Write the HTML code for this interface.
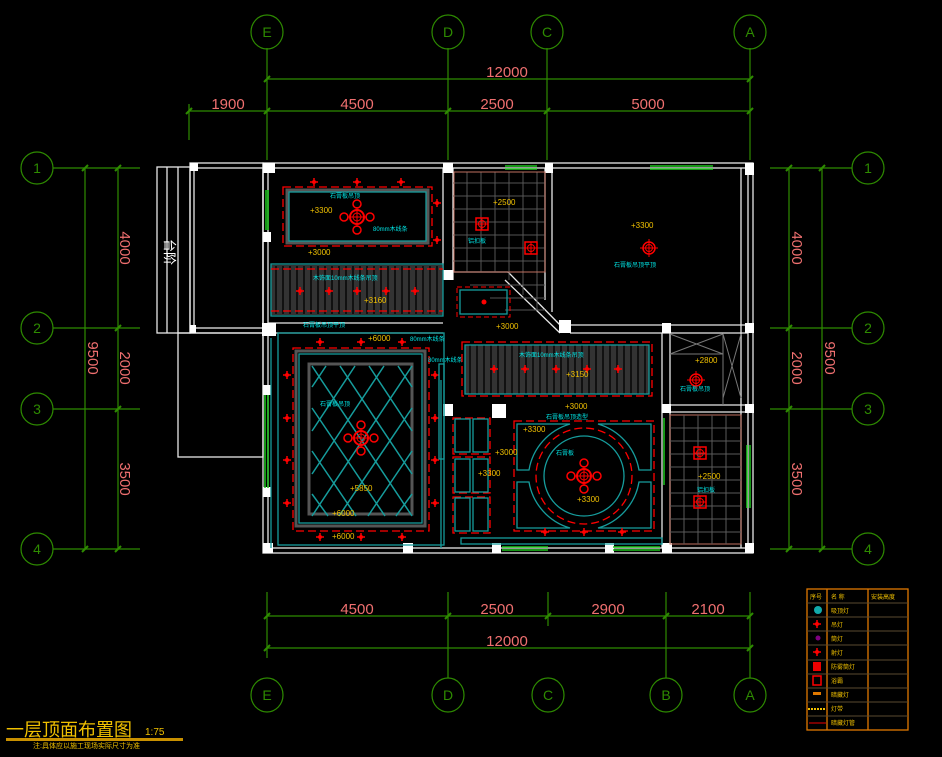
<!DOCTYPE html>
<html><head><meta charset="utf-8"><style>
html,body{margin:0;padding:0;background:#000;}
svg{display:block;font-family:"Liberation Sans","Noto Sans CJK SC",sans-serif;}
.g{stroke:#2e8b00;fill:none;stroke-width:1.2}
.w{stroke:#e8e8e8;fill:none;stroke-width:1.3}
.c{stroke:#169c9c;fill:none;stroke-width:1.3}
.rd{stroke:#f00;fill:none;stroke-width:1.3;stroke-dasharray:8 4}
.gr{stroke:#555;fill:none;stroke-width:1}
.dt{fill:#f07070;font-size:15px;text-anchor:middle}
.yl{fill:#f0c000;font-size:8px}
.cy{fill:#00e8e8;font-size:6px}
.bt{fill:#2e8b00;font-size:14px;text-anchor:middle;dominant-baseline:central}
.tk{stroke:#2e8b00;stroke-width:2}
</style></head><body>
<svg width="942" height="757" viewBox="0 0 942 757" xmlns="http://www.w3.org/2000/svg">
<defs>
<g id="lamp"><circle r="6" fill="none" stroke="#f00" stroke-width="1.5"/><circle r="3.5" fill="none" stroke="#f00"/><path d="M-9 0H9M0 -9V9" stroke="#f00"/></g>
<g id="big"><circle r="7" fill="none" stroke="#f00" stroke-width="2"/><circle r="4" fill="none" stroke="#f00"/><path d="M-10 0H10M0-10V10" stroke="#f00"/>
<circle cx="-13" r="4" fill="none" stroke="#f00" stroke-width="1.5"/><circle cx="13" r="4" fill="none" stroke="#f00" stroke-width="1.5"/><circle cy="-13" r="4" fill="none" stroke="#f00" stroke-width="1.5"/><circle cy="13" r="4" fill="none" stroke="#f00" stroke-width="1.5"/></g>
<g id="sp"><path d="M-4 0H4M0-4V4" stroke="#f00" stroke-width="1.5"/><circle r="2" fill="#f00"/></g>
<g id="sq"><rect x="-6" y="-6" width="12" height="12" fill="none" stroke="#f00" stroke-width="1.5"/><circle r="3.5" fill="none" stroke="#f00"/><path d="M-6 0H6M0-6V6" stroke="#f00"/></g>
<path id="th" d="M-3 3L3 -3" class="tk"/>
<path id="tv" d="M-3 3L3 -3" class="tk"/>
</defs>

<!-- top grid -->
<g class="g">
<line x1="267" y1="79" x2="750" y2="79"/>
<line x1="189" y1="111" x2="750" y2="111"/>
<line x1="267" y1="48" x2="267" y2="160"/><line x1="448" y1="48" x2="448" y2="160"/><line x1="547" y1="48" x2="547" y2="160"/><line x1="750" y1="48" x2="750" y2="160"/>
<line x1="189" y1="104" x2="189" y2="140"/>
<ellipse cx="267" cy="32" rx="16" ry="17"/><ellipse cx="448" cy="32" rx="16" ry="17"/><ellipse cx="547" cy="32" rx="16" ry="17"/><ellipse cx="750" cy="32" rx="16" ry="17"/>
<line x1="53" y1="168" x2="140" y2="168"/><line x1="53" y1="328" x2="140" y2="328"/><line x1="53" y1="409" x2="140" y2="409"/><line x1="53" y1="549" x2="140" y2="549"/>
<line x1="85" y1="168" x2="85" y2="549"/><line x1="118" y1="168" x2="118" y2="549"/>
<ellipse cx="37" cy="168" rx="16" ry="16"/><ellipse cx="37" cy="328" rx="16" ry="16"/><ellipse cx="37" cy="409" rx="16" ry="16"/><ellipse cx="37" cy="549" rx="16" ry="16"/>
<line x1="770" y1="168" x2="852" y2="168"/><line x1="770" y1="328" x2="852" y2="328"/><line x1="770" y1="409" x2="852" y2="409"/><line x1="770" y1="549" x2="852" y2="549"/>
<line x1="789" y1="168" x2="789" y2="549"/><line x1="822" y1="168" x2="822" y2="549"/>
<ellipse cx="868" cy="168" rx="16" ry="16"/><ellipse cx="868" cy="328" rx="16" ry="16"/><ellipse cx="868" cy="409" rx="16" ry="16"/><ellipse cx="868" cy="549" rx="16" ry="16"/>
<line x1="267" y1="616" x2="750" y2="616"/><line x1="267" y1="648" x2="750" y2="648"/>
<line x1="267" y1="592" x2="267" y2="658"/><line x1="448" y1="592" x2="448" y2="678"/><line x1="548" y1="592" x2="548" y2="626"/><line x1="666" y1="592" x2="666" y2="678"/><line x1="750" y1="592" x2="750" y2="678"/>
<ellipse cx="267" cy="695" rx="16" ry="17"/><ellipse cx="448" cy="695" rx="16" ry="17"/><ellipse cx="548" cy="695" rx="16" ry="17"/><ellipse cx="666" cy="695" rx="16" ry="17"/><ellipse cx="750" cy="695" rx="16" ry="17"/>
</g>
<!-- ticks -->
<g>
<use href="#th" x="267" y="79"/><use href="#th" x="750" y="79"/>
<use href="#th" x="189" y="111"/><use href="#th" x="267" y="111"/><use href="#th" x="448" y="111"/><use href="#th" x="547" y="111"/><use href="#th" x="750" y="111"/>
<use href="#th" x="267" y="616"/><use href="#th" x="448" y="616"/><use href="#th" x="548" y="616"/><use href="#th" x="666" y="616"/><use href="#th" x="750" y="616"/>
<use href="#th" x="267" y="648"/><use href="#th" x="750" y="648"/>
<use href="#tv" x="85" y="168"/><use href="#tv" x="85" y="549"/>
<use href="#tv" x="118" y="168"/><use href="#tv" x="118" y="328"/><use href="#tv" x="118" y="409"/><use href="#tv" x="118" y="549"/>
<use href="#tv" x="822" y="168"/><use href="#tv" x="822" y="549"/>
<use href="#tv" x="789" y="168"/><use href="#tv" x="789" y="328"/><use href="#tv" x="789" y="409"/><use href="#tv" x="789" y="549"/>
</g>
<g class="bt">
<text x="267" y="32">E</text><text x="448" y="32">D</text><text x="547" y="32">C</text><text x="750" y="32">A</text>
<text x="37" y="168">1</text><text x="37" y="328">2</text><text x="37" y="409">3</text><text x="37" y="549">4</text>
<text x="868" y="168">1</text><text x="868" y="328">2</text><text x="868" y="409">3</text><text x="868" y="549">4</text>
<text x="267" y="695">E</text><text x="448" y="695">D</text><text x="548" y="695">C</text><text x="666" y="695">B</text><text x="750" y="695">A</text>
</g>
<g class="dt">
<text x="507" y="77">12000</text>
<text x="228" y="109">1900</text><text x="357" y="109">4500</text><text x="497" y="109">2500</text><text x="648" y="109">5000</text>
<text x="357" y="614">4500</text><text x="497" y="614">2500</text><text x="608" y="614">2900</text><text x="708" y="614">2100</text>
<text x="507" y="646">12000</text>
<text transform="translate(120,248) rotate(90)">4000</text><text transform="translate(120,368) rotate(90)">2000</text><text transform="translate(120,479) rotate(90)">3500</text><text transform="translate(88,358) rotate(90)">9500</text>
<text transform="translate(792,248) rotate(90)">4000</text><text transform="translate(792,368) rotate(90)">2000</text><text transform="translate(792,479) rotate(90)">3500</text><text transform="translate(825,358) rotate(90)">9500</text>
</g>

<!-- walls -->
<g class="w">
<rect x="263" y="163" width="490" height="390"/>
<rect x="268" y="168" width="480" height="380"/>
<rect x="190" y="163" width="73" height="170"/><rect x="194" y="168" width="69" height="160"/>
<rect x="157" y="167" width="33" height="166"/><line x1="167" y1="167" x2="167" y2="333"/><line x1="178" y1="167" x2="178" y2="333"/>
<rect x="178" y="333" width="85" height="124"/>
<line x1="268" y1="323" x2="443" y2="323"/><line x1="268" y1="333" x2="443" y2="333"/>
<line x1="443" y1="168" x2="443" y2="280"/><line x1="453" y1="168" x2="453" y2="280"/>
<line x1="453" y1="272" x2="508" y2="272"/><line x1="508" y1="272" x2="560" y2="325"/><line x1="505" y1="280" x2="560" y2="333"/>
<line x1="545" y1="168" x2="545" y2="300"/><line x1="552" y1="168" x2="552" y2="312"/>
<line x1="570" y1="325" x2="748" y2="325"/><line x1="570" y1="333" x2="748" y2="333"/>
<line x1="662" y1="333" x2="662" y2="548"/><line x1="670" y1="333" x2="670" y2="548"/>
<line x1="670" y1="405" x2="748" y2="405"/><line x1="670" y1="412" x2="748" y2="412"/>
<line x1="741" y1="168" x2="741" y2="548"/>
</g>
<g fill="#fff">
<rect x="263" y="163" width="12" height="10"/><rect x="443" y="163" width="10" height="10"/><rect x="545" y="163" width="8" height="10"/><rect x="745" y="163" width="9" height="12"/>
<rect x="190" y="163" width="8" height="8"/><rect x="190" y="325" width="6" height="8"/><rect x="262" y="323" width="14" height="13"/>
<rect x="443" y="270" width="10" height="10"/><rect x="559" y="320" width="12" height="13"/><rect x="662" y="323" width="9" height="10"/><rect x="745" y="323" width="9" height="10"/>
<rect x="443" y="404" width="10" height="12"/><rect x="492" y="404" width="14" height="14"/>
<rect x="662" y="404" width="9" height="9"/><rect x="745" y="404" width="9" height="9"/>
<rect x="263" y="543" width="10" height="10"/><rect x="403" y="543" width="10" height="10"/><rect x="492" y="543" width="9" height="10"/><rect x="605" y="543" width="9" height="10"/><rect x="662" y="543" width="10" height="10"/><rect x="745" y="543" width="9" height="10"/>
<rect x="263" y="232" width="8" height="10"/><rect x="263" y="385" width="8" height="10"/><rect x="263" y="487" width="8" height="10"/>
</g>
<g stroke="#1ec81e" stroke-width="1.5">
<line x1="505" y1="166" x2="537" y2="166"/><line x1="505" y1="169" x2="537" y2="169"/>
<line x1="650" y1="166" x2="713" y2="166"/><line x1="650" y1="169" x2="713" y2="169"/>
<line x1="266" y1="190" x2="266" y2="230"/><line x1="268" y1="190" x2="268" y2="230"/>
<line x1="265" y1="395" x2="265" y2="488"/><line x1="268" y1="395" x2="268" y2="488"/>
<line x1="502" y1="547" x2="548" y2="547"/><line x1="502" y1="550" x2="548" y2="550"/>
<line x1="613" y1="547" x2="660" y2="547"/><line x1="613" y1="550" x2="660" y2="550"/>
<line x1="664" y1="418" x2="664" y2="485"/><line x1="747" y1="445" x2="747" y2="508"/><line x1="750" y1="445" x2="750" y2="508"/>
</g>
<text x="160" y="244" fill="#fff" font-size="13" transform="rotate(90 165 244)">台阶</text>

<!-- room 1 top -->
<rect x="283" y="187" width="149" height="59" class="rd"/>
<rect x="287" y="190" width="141" height="53" stroke="#555" stroke-width="3" fill="none"/>
<rect x="289" y="192" width="137" height="49" class="c"/>
<use href="#big" x="357" y="217"/>
<use href="#sp" x="314" y="182"/><use href="#sp" x="357" y="182"/><use href="#sp" x="401" y="182"/><use href="#sp" x="437" y="203"/><use href="#sp" x="437" y="240"/>
<text x="310" y="213" class="yl">+3300</text><text x="308" y="255" class="yl">+3000</text>
<text x="330" y="198" class="cy">石膏板吊顶</text><text x="373" y="231" class="cy">80mm木线条</text>
<rect x="271" y="265" width="172" height="50" fill="#333"/>
<g stroke="#111" stroke-width="2"><path d="M276 266V314M283 266V314M290 266V314M297 266V314M304 266V314M311 266V314M318 266V314M325 266V314M332 266V314M339 266V314M346 266V314M353 266V314M360 266V314M367 266V314M374 266V314M381 266V314M388 266V314M395 266V314M402 266V314M409 266V314M416 266V314M423 266V314M430 266V314M437 266V314"/></g>
<rect x="271" y="264" width="172" height="52" class="c"/><line x1="271" y1="269" x2="443" y2="269" class="rd"/><line x1="271" y1="311" x2="443" y2="311" class="rd"/>
<use href="#sp" x="300" y="291"/><use href="#sp" x="329" y="291"/><use href="#sp" x="357" y="291"/><use href="#sp" x="386" y="291"/><use href="#sp" x="415" y="291"/>
<text x="313" y="280" class="cy">木饰面10mm木线条吊顶</text><text x="364" y="303" class="yl">+3160</text>
<text x="303" y="327" class="cy">石膏板吊顶平顶</text>

<!-- living room -->
<rect x="278" y="333" width="166" height="212" class="c"/>
<rect x="293" y="348" width="136" height="183" class="rd"/>
<rect x="296" y="351" width="129" height="175" stroke="#555" stroke-width="3" fill="none"/>
<rect x="299" y="354" width="123" height="169" class="c"/>
<rect x="309" y="364" width="103" height="150" stroke="#555" stroke-width="3" fill="none"/>
<g stroke="#169c9c" stroke-width="1.5" fill="none">
<path d="M312 366L412 516M340 366L412 474M369 366L412 431M398 366L412 387M312 408L385 516M312 451L356 516M312 494L328 516"/>
<path d="M412 366L312 516M384 366L312 474M355 366L312 431M326 366L312 387M412 408L339 516M412 451L368 516M412 494L396 516"/>
</g>
<use href="#big" x="361" y="438"/>
<use href="#sp" x="320" y="342"/><use href="#sp" x="361" y="342"/><use href="#sp" x="402" y="342"/>
<use href="#sp" x="287" y="375"/><use href="#sp" x="287" y="418"/><use href="#sp" x="287" y="460"/><use href="#sp" x="287" y="503"/>
<use href="#sp" x="435" y="375"/><use href="#sp" x="435" y="418"/><use href="#sp" x="435" y="460"/><use href="#sp" x="435" y="503"/>
<use href="#sp" x="320" y="537"/><use href="#sp" x="361" y="537"/><use href="#sp" x="402" y="537"/>
<rect x="439" y="364" width="5" height="95" class="c"/>
<text x="368" y="341" class="yl">+6000</text><text x="350" y="491" class="yl">+5850</text><text x="332" y="516" class="yl">+6000</text><text x="332" y="539" class="yl">+6000</text>
<text x="410" y="341" class="cy" font-size="8">80mm木线条</text><text x="428" y="362" class="cy" font-size="8">80mm木线条</text>
<text x="320" y="406" class="cy">石膏板吊顶</text>

<!-- kitchen tiles -->
<g class="gr" stroke="#5a5a5a"><path d="M453 183H545M453 196H545M453 209H545M453 222H545M453 235H545M453 248H545M453 261H545M470 285H545M490 298H545M505 310H545"/>
<path d="M467 172V272M481 172V272M495 172V272M509 172V280M523 172V295M537 172V310"/></g>
<rect x="454" y="172" width="91" height="100" stroke="#c07060" fill="none"/>
<use href="#sq" x="482" y="224"/><use href="#sq" x="531" y="248"/>
<text x="493" y="205" class="yl">+2500</text><text x="468" y="243" class="cy">铝扣板</text>
<rect x="457" y="287" width="53" height="30" stroke="#f00" stroke-dasharray="5 3" fill="none"/><rect x="460" y="290" width="47" height="24" class="c"/>
<circle cx="484" cy="302" r="2.5" fill="#f00"/><text x="496" y="329" class="yl">+3000</text>

<use href="#lamp" x="649" y="248"/><text x="631" y="228" class="yl">+3300</text><text x="614" y="267" class="cy">石膏板吊顶平顶</text>

<!-- dining slats -->
<rect x="462" y="342" width="190" height="54" class="rd" stroke-dasharray="8 4"/>
<rect x="465" y="345" width="184" height="49" fill="#333"/>
<g stroke="#111" stroke-width="2"><path d="M470 345V394M477 345V394M484 345V394M491 345V394M498 345V394M505 345V394M512 345V394M519 345V394M526 345V394M533 345V394M540 345V394M547 345V394M554 345V394M561 345V394M568 345V394M575 345V394M582 345V394M589 345V394M596 345V394M603 345V394M610 345V394M617 345V394M624 345V394M631 345V394M638 345V394M645 345V394"/></g>
<rect x="465" y="345" width="184" height="49" class="c"/>
<use href="#sp" x="494" y="369"/><use href="#sp" x="525" y="369"/><use href="#sp" x="556" y="369"/><use href="#sp" x="587" y="369"/><use href="#sp" x="618" y="369"/>
<text x="519" y="357" class="cy">木饰面10mm木线条吊顶</text><text x="566" y="377" class="yl">+3150</text>

<!-- circular ceiling -->
<rect x="514" y="421" width="140" height="110" class="rd"/>
<path d="M517 424H570A58 58 0 0 0 529 470H517Z" class="c"/><path d="M651 424H598A58 58 0 0 1 639 470H651Z" class="c"/>
<path d="M517 528H570A58 58 0 0 1 529 482H517Z" class="c"/><path d="M651 528H598A58 58 0 0 0 639 482H651Z" class="c"/>
<circle cx="584" cy="476" r="48" class="rd" stroke-dasharray="7 4"/>
<circle cx="584" cy="476" r="40" class="c"/>
<use href="#big" x="584" y="476"/>
<use href="#sp" x="545" y="532"/><use href="#sp" x="584" y="532"/><use href="#sp" x="622" y="532"/>
<text x="565" y="409" class="yl">+3000</text><text x="546" y="419" class="cy">石膏板吊顶造型</text>
<text x="523" y="432" class="yl">+3300</text><text x="556" y="455" class="cy">石膏板</text><text x="577" y="502" class="yl">+3300</text>
<rect x="461" y="538" width="201" height="6" class="c"/>
<g><rect x="453" y="418" width="37" height="36" class="rd" stroke-dasharray="5 3"/><rect x="455" y="419" width="15" height="33" class="c"/><rect x="473" y="419" width="15" height="33" class="c"/>
<rect x="453" y="457" width="37" height="36" class="rd" stroke-dasharray="5 3"/><rect x="455" y="459" width="15" height="33" class="c"/><rect x="473" y="459" width="15" height="33" class="c"/>
<rect x="453" y="497" width="37" height="36" class="rd" stroke-dasharray="5 3"/><rect x="455" y="498" width="15" height="33" class="c"/><rect x="473" y="498" width="15" height="33" class="c"/></g>
<text x="495" y="455" class="yl">+3000</text><text x="478" y="476" class="yl">+3300</text>
<line x1="271" y1="338" x2="271" y2="548" class="c"/><line x1="441" y1="380" x2="441" y2="548" class="c"/>

<g stroke="#777" fill="none"><path d="M670 334L723 354M723 334L670 354M670 354H723M723 334V405M723 334L741 398M741 334L723 398"/></g>
<use href="#lamp" x="696" y="380"/><text x="695" y="363" class="yl">+2800</text><text x="680" y="391" class="cy">石膏板吊顶</text>
<rect x="670" y="415" width="71" height="129" stroke="#c07060" fill="none"/>
<g stroke="#5a5a5a"><path d="M670 428H741M670 441H741M670 454H741M670 467H741M670 480H741M670 493H741M670 506H741M670 519H741M670 532H741M684 415V544M698 415V544M712 415V544M726 415V544"/></g>
<use href="#sq" x="700" y="453"/><use href="#sq" x="700" y="502"/>
<text x="698" y="479" class="yl">+2500</text><text x="697" y="492" class="cy">铝扣板</text>

<!-- legend -->
<g stroke="#e07800" fill="none" stroke-width="1.3">
<rect x="807" y="589" width="101" height="141"/>
<line x1="827" y1="589" x2="827" y2="730"/><line x1="868" y1="589" x2="868" y2="730"/>
</g>
<g stroke="#5a4a30"><path d="M807 603H908M807 617H908M807 631H908M807 645H908M807 660H908M807 674H908M807 688H908M807 702H908M807 716H908"/></g>
<g font-size="6" fill="#f0c000">
<text x="810" y="599">序号</text><text x="831" y="599">名  称</text><text x="871" y="599">安装高度</text>
<text x="831" y="613">吸顶灯</text><text x="831" y="627">吊灯</text><text x="831" y="641">筒灯</text><text x="831" y="655">射灯</text><text x="831" y="669">防雾筒灯</text><text x="831" y="683">浴霸</text><text x="831" y="697">暗藏灯</text><text x="831" y="711">灯带</text><text x="831" y="725">暗藏灯管</text>
</g>
<circle cx="818" cy="610" r="4" fill="#1aa"/><use href="#sp" x="817" y="624"/><circle cx="818" cy="638" r="2.5" fill="#800080"/><use href="#sp" x="817" y="652"/>
<rect x="813" y="662" width="8" height="9" fill="#e00"/><rect x="813" y="676" width="8" height="9" fill="none" stroke="#f00" stroke-width="1.5"/>
<rect x="813" y="692" width="8" height="3" fill="#e07800"/><line x1="808" y1="709" x2="826" y2="709" stroke="#f0c000" stroke-dasharray="2 1" stroke-width="2"/><line x1="809" y1="723" x2="826" y2="723" stroke="#e00"/>

<text x="6" y="736" fill="#f0c000" font-size="18">一层顶面布置图</text><text x="145" y="735" fill="#f0c000" font-size="10">1:75</text>
<rect x="6" y="738" width="177" height="3" fill="#c89000"/>
<text x="33" y="748" fill="#f0c000" font-size="7">注:具体应以施工现场实际尺寸为准</text>
</svg>
</body></html>
